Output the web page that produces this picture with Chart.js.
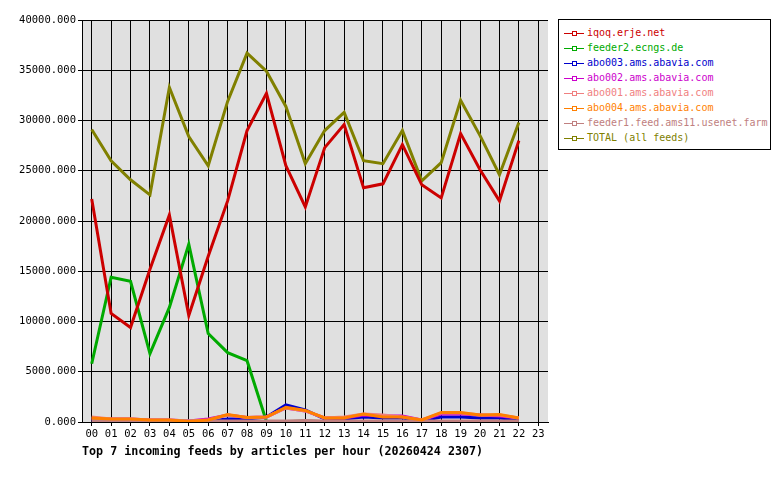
<!DOCTYPE html>
<html><head><meta charset="utf-8">
<script src="https://cdn.jsdelivr.net/npm/chart.js@4"></script>
<style>
body{margin:0;background:#fff;}
#wrap{position:relative;width:780px;height:480px;}
#legend{position:absolute;left:558px;top:19px;width:211px;border:1px solid #000;background:#fff;font:10px "DejaVu Sans Mono",monospace;padding:5px 0 4px 0;}
#legend div{height:15px;line-height:15px;white-space:nowrap;padding-left:5px;}
#legend span.l{display:inline-block;width:20px;height:1px;vertical-align:middle;margin-right:3px;position:relative;}
#title{position:absolute;left:82px;top:444px;font:bold 11.7px "DejaVu Sans Mono",monospace;color:#000;white-space:nowrap;}
</style></head><body>
<div id="wrap"><canvas id="c" width="780" height="480"></canvas><div id="legend"></div><div id="title"></div></div>
<script>
const hours = ["00","01","02","03","04","05","06","07","08","09","10","11","12","13","14","15","16","17","18","19","20","21","22","23"];
const names = ["iqoq.erje.net","feeder2.ecngs.de","abo003.ams.abavia.com","abo002.ams.abavia.com","abo001.ams.abavia.com","abo004.ams.abavia.com","feeder1.feed.ams11.usenet.farm","TOTAL (all feeds)"];
const titleText = "Top 7 incoming feeds by articles per hour (20260424 2307)";
const colors = ["#cc0000","#00aa00","#0000cc","#cc00cc","#f08080","#ff7f00","#c08080","#808000"];
const iqoq = [22200,10800,9400,15200,20600,10600,16500,22000,29000,32700,25500,21400,27300,29600,23300,23700,27600,23600,22300,28700,25100,22000,28000];
const feeder2 = [5800,14400,14000,6800,11400,17700,8800,6900,6100,50,30,100,30,30,30,30,30,30,60,30,30,30,60];
const abo003 = [50,50,50,50,50,50,100,300,300,500,1700,1200,300,300,500,400,400,100,500,500,400,400,200];
const abo002 = [300,300,300,200,200,100,300,700,450,500,1400,1100,400,400,700,600,600,200,800,800,700,600,400];
const abo001 = [500,300,300,200,200,100,200,700,450,500,1400,1100,400,500,800,700,500,200,900,900,700,700,400];
const abo004 = [400,300,300,200,200,50,200,750,450,500,1450,1150,400,400,800,500,500,200,950,950,700,750,400];
const feeder1 = [150,150,150,150,150,100,100,100,100,100,100,150,100,100,100,100,100,100,100,100,100,100,100];
const total = [29100,26000,24100,22600,33300,28400,25500,31900,36700,34900,31400,25700,29000,30800,26000,25700,29000,24000,25800,32000,28500,24600,29800];
const yTicks = [0,5000,10000,15000,20000,25000,30000,35000,40000];
const series = [iqoq,feeder2,abo003,abo002,abo001,abo004,feeder1,total];
const font = {family:"DejaVu Sans Mono",size:10.5};
const order = [7,1,2,3,4,6,5,0];
const bg = {id:'bg',beforeDraw(ch){const a=ch.chartArea,c=ch.ctx;c.save();c.fillStyle='#e0e0e0';c.fillRect(a.left,a.top,a.right-a.left,a.bottom-a.top);c.restore();}};
new Chart(document.getElementById('c'),{
type:'line',
data:{labels:hours,datasets:series.map((d,i)=>({label:names[i],data:d,borderColor:colors[i],backgroundColor:colors[i],borderWidth:3,pointRadius:0,tension:0,order:8-order.indexOf(i)}))},
options:{responsive:false,animation:false,
layout:{padding:{left:0,right:232,top:20,bottom:36}},
plugins:{legend:{display:false},tooltip:{enabled:false},title:{display:false}},
scales:{
x:{offset:true,grid:{color:'#000',offset:false,drawTicks:true,tickLength:4,tickColor:'#000'},border:{color:'#000'},ticks:{color:'#000',font,maxRotation:0,autoSkip:false,padding:2},afterFit(s){s.height=22;}},
y:{min:0,max:40000,grid:{color:'#000',tickLength:4,tickColor:'#000'},border:{color:'#000'},afterBuildTicks(s){s.ticks=yTicks.map(v=>({value:v}));},ticks:{color:'#000',font,padding:2,callback:v=>v.toFixed(3)},afterFit(s){s.width=82;}}
}},
plugins:[bg]
});
document.getElementById('title').textContent=titleText;
const lg=document.getElementById('legend');
names.forEach((n,i)=>{const d=document.createElement('div');d.style.color=colors[i];d.innerHTML='<span class="l" style="background:'+colors[i]+'"><span style="position:absolute;left:8px;top:-2px;width:3px;height:3px;border:1px solid '+colors[i]+';background:#fff"></span></span>'+n;lg.appendChild(d);});
</script></body></html>
